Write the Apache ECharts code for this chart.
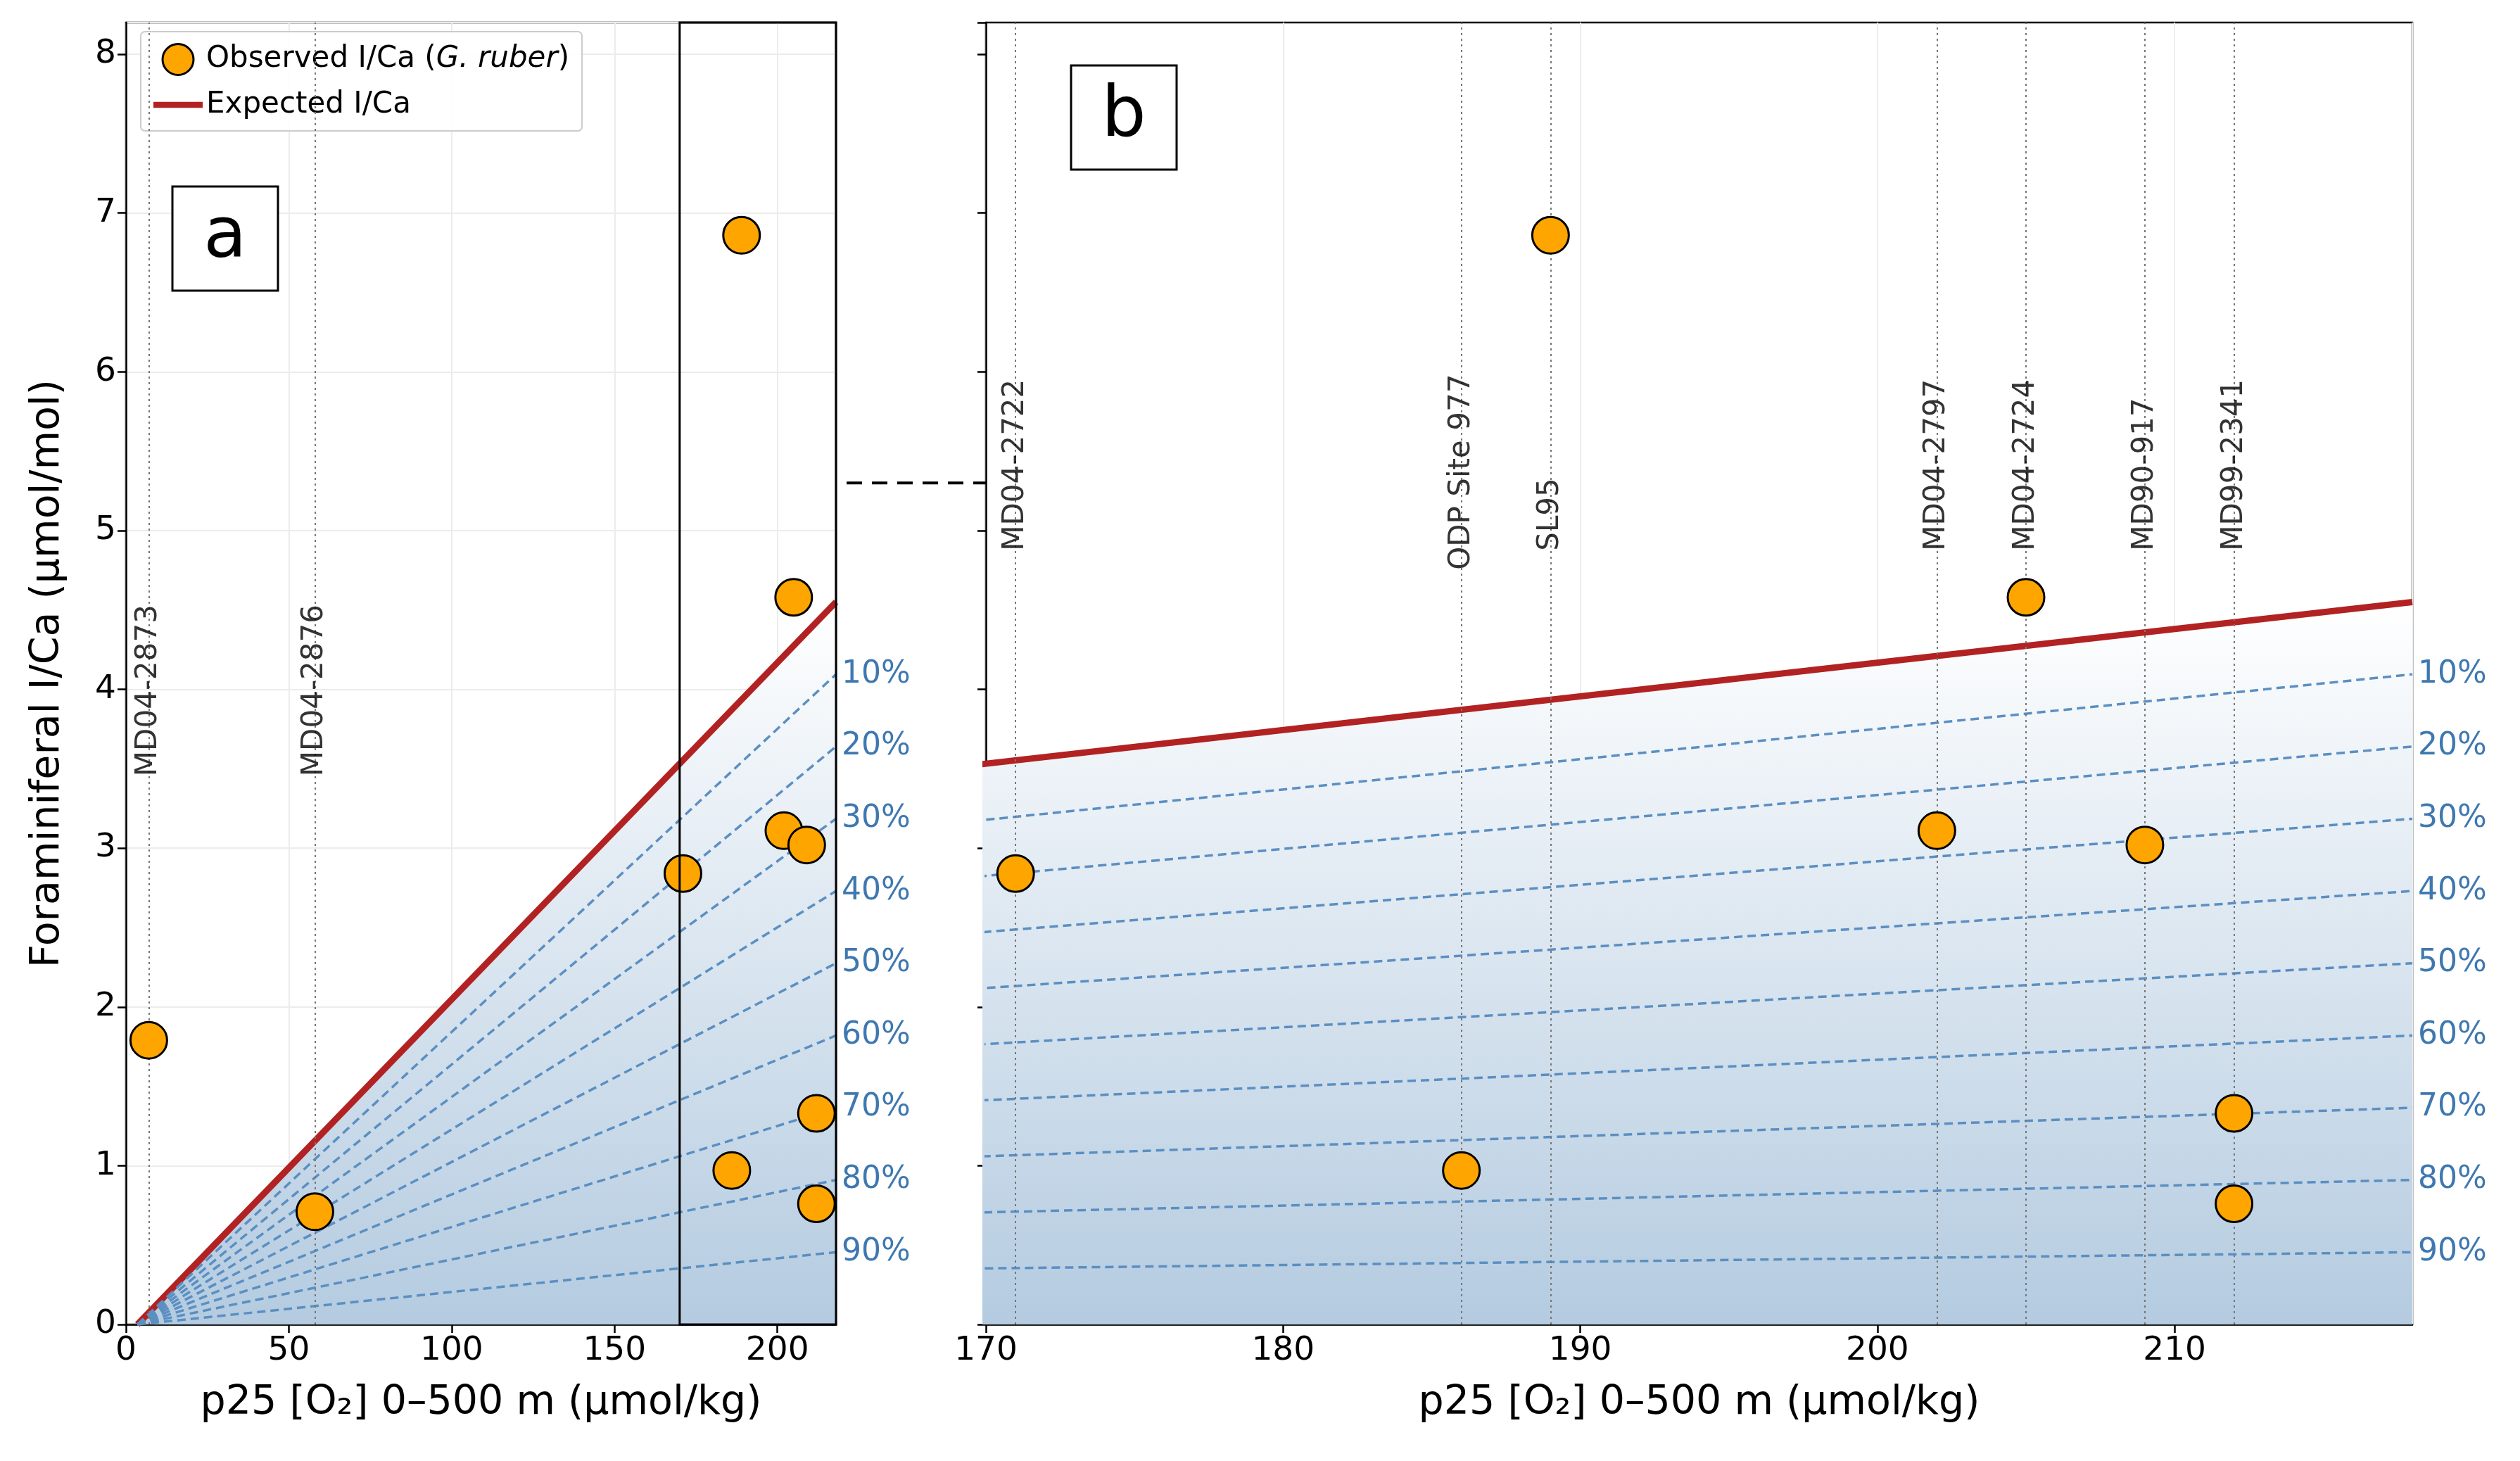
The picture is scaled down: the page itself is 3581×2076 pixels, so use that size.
<!DOCTYPE html>
<html><head><meta charset="utf-8">
<script src="https://cdn.jsdelivr.net/npm/echarts@6/dist/echarts.min.js"></script>
<style>html,body{margin:0;padding:0;background:#fff}#c{width:3581px;height:2076px}</style>
</head><body><div id="c"></div>
<script>
const stationNames = ['MD04-2873','MD04-2876','MD04-2722','ODP Site 977','SL95','MD04-2797','MD04-2724','MD90-917','MD99-2341'];
const stationX =     [7, 58, 171, 186, 189, 202, 205, 209, 212];
const obsX = [7, 58, 171, 186, 189, 202, 205, 209, 212, 212];
const obsY = [1.79, 0.71, 2.84, 0.97, 6.86, 3.11, 4.58, 3.02, 1.33, 0.76];
const expectedX = [3.5, 218];
const expectedY = [0, 4.55];
const fractions = [0.9, 0.8, 0.7, 0.6, 0.5, 0.4, 0.3, 0.2, 0.1];
const fracLabels = ['10%','20%','30%','40%','50%','60%','70%','80%','90%'];

const FONT = 'DejaVu Sans';
const blue = '#4f86b8';
const chart = echarts.init(document.getElementById('c'));
const grids = [
  {left:179, top:32, width:1009, height:1850, show:true, borderColor:'#000', borderWidth:2.5, backgroundColor:'transparent'},
  {left:1401, top:32, width:2027, height:1850, show:true, borderColor:'#000', borderWidth:2.5, backgroundColor:'transparent'}
];
function xAxis(i, min, max, interval){
  return {gridIndex:i, type:'value', min, max, interval,
    name:'p25 [O\u2082] 0\u2013500 m (\u00b5mol/kg)', nameLocation:'middle', nameGap:84,
    nameTextStyle:{fontFamily:FONT, fontSize:57, color:'#000'},
    axisLine:{onZero:false, lineStyle:{color:'#000', width:2.5}},
    axisTick:{length:12, lineStyle:{color:'#000', width:2.5}},
    axisLabel:{fontFamily:FONT, fontSize:47, color:'#000', margin:14, showMaxLabel:false},
    splitLine:{show:true, lineStyle:{color:'#ececec', width:2}}};
}
function yAxis(i, labels){
  return {gridIndex:i, type:'value', min:0, max:8.2, interval:1,
    name: labels ? 'Foraminiferal I/Ca (\u00b5mol/mol)' : '', nameLocation:'middle', nameGap:82,
    nameTextStyle:{fontFamily:FONT, fontSize:57, color:'#000'},
    axisLine:{show:true, lineStyle:{color:'#000', width:2.5}},
    axisTick:{show:true, length:12, lineStyle:{color:'#000', width:2.5}},
    axisLabel:{show:labels, fontFamily:FONT, fontSize:47, color:'#000', margin:14, showMaxLabel:false},
    splitLine:{show:labels, lineStyle:{color:'#ececec', width:2}}};
}
const series = [];
const expData = expectedX.map((x,i)=>[x, expectedY[i]]);
for (let g=0; g<2; g++){
  series.push({type:'line', xAxisIndex:g, yAxisIndex:g, data:expData, symbol:'none', clip:true, z:3,
    name: g===0 ? 'Expected I/Ca' : 'exp_b',
    itemStyle:{color:'#b22222'},
    lineStyle:{color:'#b22222', width:9},
    areaStyle:{color:new echarts.graphic.LinearGradient(0,0,0,1,[{offset:0,color:'rgba(255,255,255,1)'},{offset:1,color:'rgba(180,203,224,1)'}]), opacity:1}});
  fractions.forEach((f,k)=>{
    series.push({type:'line', xAxisIndex:g, yAxisIndex:g, symbol:'none', clip:true, z:4,
      data: expData.map(p=>[p[0], p[1]*f]),
      lineStyle:{color:'#5b8fc2', width:3.5, type:[12,7]},
      endLabel:{show:true, formatter:fracLabels[k], color:'#3f78b0', fontFamily:FONT, fontSize:44, distance:8}});
  });
  const stations = stationNames.map((n,i)=>({n, x:stationX[i]})).filter(s => g===0 ? s.x<100 : s.x>=170);
  series.push({type:'scatter', xAxisIndex:g, yAxisIndex:g, symbolSize:0, z:6, silent:true,
    data: stations.map(s=>({value:[s.x, s.n==='ODP Site 977' ? 4.77 : (g===0?3.47:4.89)], name:s.n})),
    label:{show:true, formatter:p=>p.name, rotate:90, align:'left', verticalAlign:'middle', position:[0,0], offset:[-4,0],
      fontFamily:FONT, fontSize:42, color:'#000'},
    markLine:{silent:true, symbol:'none', label:{show:false}, lineStyle:{color:'#777', type:[3,5], width:2},
      data: stations.map(s=>({xAxis:s.x}))}});
  series.push({type:'scatter', xAxisIndex:g, yAxisIndex:g, z:10, name: g===0 ? 'Observed' : 'obs_b',
    data: obsX.map((x,i)=>[x, obsY[i]]).filter(p => g===0 || p[0]>=170),
    symbolSize:52, itemStyle:{color:'#ffa500', borderColor:'#000', borderWidth:3, opacity:1}});
}
chart.setOption({
  animation:false,
  grid:grids,
  xAxis:[xAxis(0,0,218,50), xAxis(1,170,218,10)],
  yAxis:[yAxis(0,true), yAxis(1,false)],
  legend:{data:[{name:'Observed', icon:'circle', itemStyle:{color:'#ffa500', borderColor:'#000', borderWidth:3}},
                {name:'Expected I/Ca', icon:'path://M0,0L100,0L100,12L0,12Z', itemStyle:{color:'#b22222'}}],
    left:200, top:45, orient:'vertical',
    itemWidth:70, itemHeight:44, itemGap:20, padding:[16,18,16,18],
    backgroundColor:'rgba(255,255,255,0.9)', borderColor:'#ccc', borderWidth:2, borderRadius:6,
    textStyle:{fontFamily:FONT, fontSize:42, color:'#000',
      rich:{i:{fontStyle:'italic', fontFamily:FONT, fontSize:42}}},
    formatter:n => n==='Observed' ? 'Observed I/Ca ({i|G. ruber})' : n},
  series
});
const p1 = chart.convertToPixel({xAxisIndex:0, yAxisIndex:0}, [170, 8.2]);
const p2 = chart.convertToPixel({xAxisIndex:0, yAxisIndex:0}, [218, 0]);
const pc = chart.convertToPixel({xAxisIndex:0, yAxisIndex:0}, [218, 5.3]);
chart.setOption({graphic:[
  {type:'rect', shape:{x:p1[0], y:p1[1], width:p2[0]-p1[0], height:p2[1]-p1[1]}, style:{fill:'none', stroke:'#000', lineWidth:3}, z:20},
  {type:'rect', shape:{x:245, y:265, width:150, height:148}, style:{fill:'#fff', stroke:'#000', lineWidth:3}, z:20},
  {type:'text', x:320, y:339, style:{text:'a', font:'100px DejaVu Sans', fill:'#000', align:'center', verticalAlign:'middle'}, z:21},
  {type:'rect', shape:{x:1522, y:93, width:150, height:148}, style:{fill:'#fff', stroke:'#000', lineWidth:3}, z:20},
  {type:'text', x:1597, y:167, style:{text:'b', font:'100px DejaVu Sans', fill:'#000', align:'center', verticalAlign:'middle'}, z:21},
  {type:'line', shape:{x1:pc[0]+15, y1:pc[1], x2:1401, y2:pc[1]}, style:{stroke:'#000', lineWidth:4, lineDash:[22,14]}, z:20}
]});
</script></body></html>
